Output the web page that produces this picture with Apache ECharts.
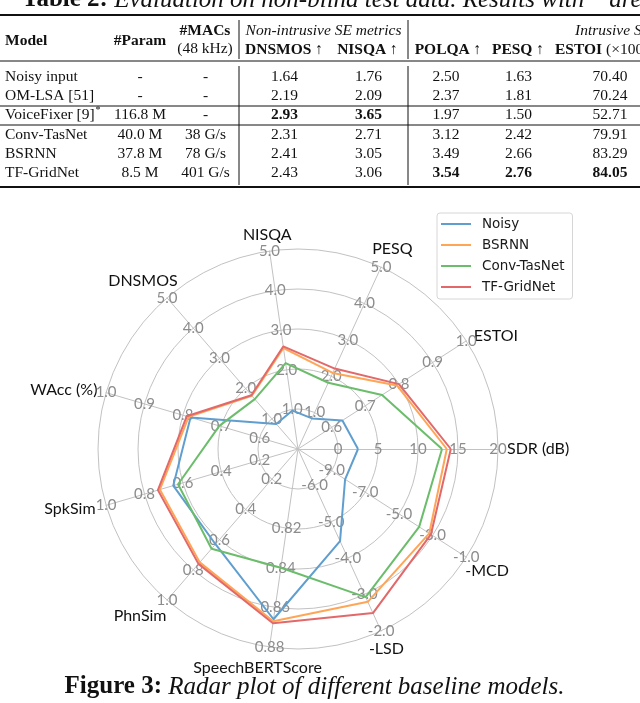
<!DOCTYPE html>
<html><head><meta charset="utf-8">
<script src="https://cdn.jsdelivr.net/npm/echarts@6/dist/echarts.min.js"></script>
<style>html,body{margin:0;padding:0;background:#fff}#c{width:640px;height:703px}</style>
</head><body><div id="c"></div>
<script>
// ---------------- data ----------------
const seriesNames = ['Noisy', 'BSRNN', 'Conv-TasNet', 'TF-GridNet'];
const axisNames = ['SDR (dB)', 'ESTOI', 'PESQ', 'NISQA', 'DNSMOS', 'WAcc (%)', 'SpkSim', 'PhnSim', 'SpeechBERTScore', '-LSD', '-MCD'];
const axisMin = [-5, 0.5, 0, 0, 0, 0.5, 0, 0, 0.78, -7, -11];
const axisMax = [20, 1.0, 5, 5, 5, 1.0, 1, 1, 0.88, -2, -1];

const ticksSDR = ['', '0', '5', '10', '15', '20'];
const ticksESTOI = ['', '0.6', '0.7', '0.8', '0.9', '1.0'];
const ticksPESQ = ['', '1.0', '2.0', '3.0', '4.0', '5.0'];
const ticksNISQA = ['', '1.0', '2.0', '3.0', '4.0', '5.0'];
const ticksDNSMOS = ['', '1.0', '2.0', '3.0', '4.0', '5.0'];
const ticksWAcc = ['', '0.6', '0.7', '0.8', '0.9', '1.0'];
const ticksSpkSim = ['', '0.2', '0.4', '0.6', '0.8', '1.0'];
const ticksPhnSim = ['', '0.2', '0.4', '0.6', '0.8', '1.0'];
const ticksSBS = ['', '', '0.82', '0.84', '0.86', '0.88'];
const ticksLSD = ['', '-6.0', '-5.0', '-4.0', '-3.0', '-2.0'];
const ticksMCD = ['', '-9.0', '-7.0', '-5.0', '-3.0', '-1.0'];

// order: SDR, ESTOI, PESQ, NISQA, DNSMOS, WAcc, SpkSim, PhnSim, SpeechBERTScore, -LSD, -MCD
const noisyValues = [2.5, 0.632, 0.84, 0.97, 0.83, 0.78, 0.65, 0.63, 0.866, -4.47, -8.2];
const bsrnnValues = [13.6, 0.794, 2.09, 2.55, 1.76, 0.785, 0.72, 0.75, 0.867, -2.8, -3.2];
const convValues = [13.0, 0.75, 1.82, 2.17, 1.65, 0.705, 0.625, 0.66, 0.840, -2.93, -3.8];
const tfValues = [14.1, 0.80, 2.21, 2.59, 1.78, 0.79, 0.73, 0.76, 0.868, -2.49, -3.1];

// table
const tableModels = ['Noisy input', 'OM-LSA [51]', 'VoiceFixer [9]', 'Conv-TasNet', 'BSRNN', 'TF-GridNet'];
const tableParam = ['-', '-', '116.8 M', '40.0 M', '37.8 M', '8.5 M'];
const tableMACs = ['-', '-', '-', '38 G/s', '78 G/s', '401 G/s'];
const tableDNSMOS = ['1.64', '2.19', '2.93', '2.31', '2.41', '2.43'];
const tableNISQA = ['1.76', '2.09', '3.65', '2.71', '3.05', '3.06'];
const tablePOLQA = ['2.50', '2.37', '1.97', '3.12', '3.49', '3.54'];
const tablePESQ = ['1.63', '1.81', '1.50', '2.42', '2.66', '2.76'];
const tableESTOI = ['70.40', '70.24', '52.71', '79.91', '83.29', '84.05'];
const boldDNSMOS = [false, false, true, false, false, false];
const boldNISQA = [false, false, true, false, false, false];
const boldPOLQA = [false, false, false, false, false, true];
const boldPESQ = [false, false, false, false, false, true];
const boldESTOI = [false, false, false, false, false, true];

// ---------------- styles / layout ----------------
const colors = ['#5f9ecf', '#ffa556', '#6bbd6b', '#e26869'];
const tickLabels = [ticksSDR, ticksESTOI, ticksPESQ, ticksNISQA, ticksDNSMOS, ticksWAcc, ticksSpkSim, ticksPhnSim, ticksSBS, ticksLSD, ticksMCD];
const nameLayout = [
  {gap: 9, align: 'left', va: 'middle'},
  {gap: 9, align: 'left', va: 'middle'},
  {gap: 20, align: 'center', va: 'middle', padding: [0, 0, 0, 6]},
  {gap: 16, align: 'center', va: 'middle'},
  {gap: 33, align: 'center', va: 'top', padding: [0, 5, 0, 0]},
  {gap: 9, align: 'right', va: 'middle'},
  {gap: 11, align: 'right', va: 'middle'},
  {gap: 32, align: 'center', va: 'bottom', padding: [0, 12, 0, 0]},
  {gap: 21, align: 'center', va: 'middle', padding: [0, 18, 0, 0]},
  {gap: 20, align: 'center', va: 'middle', padding: [0, 6, 0, 0]},
  {gap: 26, align: 'center', va: 'middle', padding: [0, 2, 0, 0]}
];

const indicator = axisNames.map(function (n, i) {
  const L = nameLayout[i];
  const step = (axisMax[i] - axisMin[i]) / 5;
  return {
    name: n, min: axisMin[i], max: axisMax[i],
    nameGap: L.gap,
    nameMoveOverlap: false,
    nameTextStyle: {align: L.align, verticalAlign: L.va, padding: L.padding || 0},
    axisLabel: {
      formatter: function (v) {
        const k = Math.round((v - axisMin[i]) / step);
        return tickLabels[i][k] || '';
      }
    }
  };
});

const seriesValues = [noisyValues, bsrnnValues, convValues, tfValues];

// ---------------- table graphics ----------------
const serif = '"Liberation Serif", "Times New Roman", serif';
const g = [];
function txt(x, y, text, opts) {
  opts = opts || {};
  g.push({
    type: 'text', x: x, y: y, silent: true,
    style: Object.assign({
      text: text, fill: '#111',
      font: (opts.weight || 'normal') + ' ' + (opts.size || 15.5) + 'px ' + serif,
      align: opts.align || 'center', verticalAlign: 'middle'
    }, opts.extra || {})
  });
}
function line(x1, y1, x2, y2, w) {
  g.push({type: 'line', silent: true, shape: {x1: x1, y1: y1, x2: x2, y2: y2}, style: {stroke: '#111', lineWidth: w || 1}});
}
// title (cut at top)
g.push({type: 'text', x: 22, y: 0, silent: true, style: {
  text: '{b|Table 2:} Evaluation on non-blind test data. Results with * are',
  font: 'italic 25px ' + serif, fill: '#111', align: 'left', verticalAlign: 'middle',
  rich: {b: {fontFamily: serif, fontSize: 25, fontWeight: 'bold', fontStyle: 'normal'}}
}});
line(0, 15, 640, 15, 2.2);
line(0, 61, 640, 61, 1);
line(0, 106, 640, 106, 1);
line(0, 125, 640, 125, 1);
line(0, 187, 640, 187, 2);
line(239, 20, 239, 59, 1); line(239, 66, 239, 185, 1);
line(408, 20, 408, 59, 1); line(408, 66, 408, 185, 1);

const bold = {b: {fontFamily: serif, fontSize: 15.5, fontWeight: 'bold'}};
txt(5, 41, 'Model', {weight: 'bold', align: 'left'});
txt(140, 41, '#Param', {weight: 'bold'});
txt(205, 31, '#MACs', {weight: 'bold'});
txt(205, 48.5, '(48 kHz)');
txt(323.5, 31, 'Non-intrusive SE metrics', {weight: 'italic'});
txt(575, 31, 'Intrusive SE metrics', {weight: 'italic', align: 'left'});
txt(284, 50, '{b|DNSMOS} ↑', {extra: {rich: bold}});
txt(367.5, 50, '{b|NISQA} ↑', {extra: {rich: bold}});
txt(448, 50, '{b|POLQA} ↑', {extra: {rich: bold}});
txt(518, 50, '{b|PESQ} ↑', {extra: {rich: bold}});
txt(555, 50, '{b|ESTOI} (×100) ↑', {align: 'left', extra: {rich: bold}});

const rowY = [77, 96, 115, 134.5, 154, 173.3];
tableModels.forEach(function (m, i) {
  const y = rowY[i];
  txt(5, y, m, {align: 'left'});
  txt(140, y, tableParam[i]);
  txt(205.5, y, tableMACs[i]);
  txt(284.5, y, tableDNSMOS[i], {weight: boldDNSMOS[i] ? 'bold' : 'normal'});
  txt(368.5, y, tableNISQA[i], {weight: boldNISQA[i] ? 'bold' : 'normal'});
  txt(446, y, tablePOLQA[i], {weight: boldPOLQA[i] ? 'bold' : 'normal'});
  txt(518.5, y, tablePESQ[i], {weight: boldPESQ[i] ? 'bold' : 'normal'});
  txt(610, y, tableESTOI[i], {weight: boldESTOI[i] ? 'bold' : 'normal'});
});
txt(98, 110, '*', {size: 10});

// caption
g.push({type: 'text', x: 314.5, y: 687, silent: true, style: {
  text: '{b|Figure 3:} {i|Radar plot of different baseline models.}',
  font: '25px ' + serif, fill: '#111', align: 'center', verticalAlign: 'middle',
  rich: {
    b: {fontFamily: serif, fontSize: 25, fontWeight: 'bold'},
    i: {fontFamily: serif, fontSize: 25, fontStyle: 'italic'}
  }
}});

// ---------------- chart ----------------
const chart = echarts.init(document.getElementById('c'), null, {renderer: 'canvas'});
chart.setOption({
  animation: false,
  backgroundColor: '#fff',
  graphic: {elements: g},
  legend: {
    orient: 'vertical', left: 437, top: 213,
    icon: 'rect', itemWidth: 30, itemHeight: 2, itemGap: 7,
    padding: [4, 8, 5, 4],
    backgroundColor: '#fff', borderColor: '#d6d6d6', borderWidth: 1, borderRadius: 3,
    textStyle: {fontFamily: '"DejaVu Sans"', fontSize: 13.5, color: '#1a1a1a', lineHeight: 14, padding: [0, 0, 0, 6]},
    data: seriesNames
  },
  radar: {
    center: [298, 449], radius: 200, startAngle: 0, splitNumber: 5, shape: 'circle',
    indicator: indicator,
    axisName: {color: '#111', fontFamily: 'Lato', fontSize: 16},
    axisLine: {lineStyle: {color: '#c2c2c2', width: 1}},
    splitLine: {lineStyle: {color: '#c2c2c2', width: 1}},
    splitArea: {show: false},
    axisTick: {show: false},
    axisLabel: {show: true, color: '#8c8c8c', fontFamily: 'Lato', fontSize: 15, margin: 0, align: 'center', verticalAlign: 'middle'}
  },
  series: [{
    type: 'radar', symbol: 'none',
    data: seriesNames.map(function (n, i) {
      return {name: n, value: seriesValues[i],
        lineStyle: {color: colors[i], width: 2},
        itemStyle: {color: colors[i]}};
    })
  }]
});
</script></body></html>
